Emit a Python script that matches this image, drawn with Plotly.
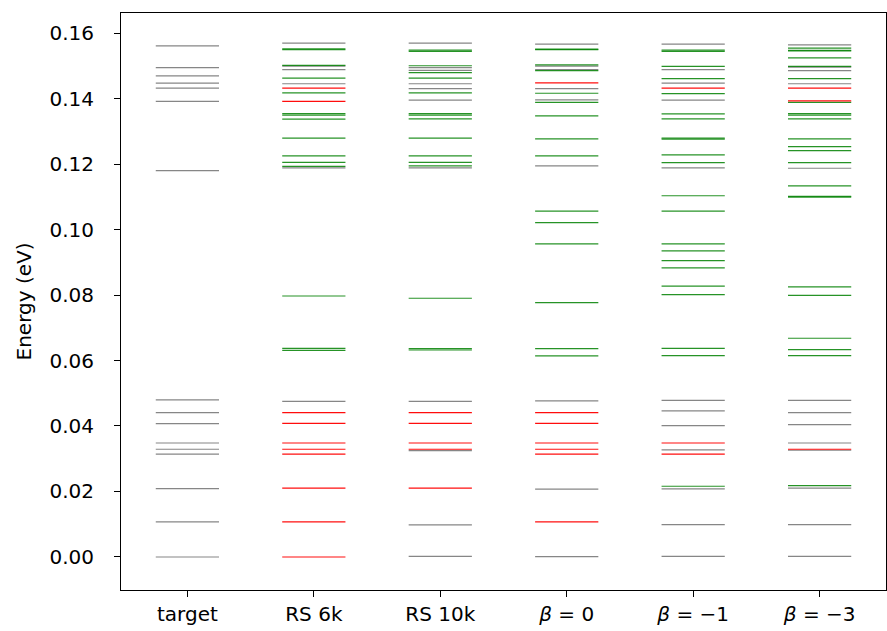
import plotly.graph_objects as go

columns = ["target", "RS 6k", "RS 10k", "<i>β</i> = 0", "<i>β</i> = −1", "<i>β</i> = −3"]

# energy levels (eV) per column, split by colour
target_gray = [0.0, 0.0107, 0.0209, 0.0314, 0.0329, 0.0348, 0.0407, 0.0441, 0.0480,
               0.1180, 0.1391, 0.1432, 0.1447, 0.1469, 0.1494, 0.1561]

rs6k_gray = [0.1569, 0.1499, 0.1488, 0.1445, 0.1188, 0.0475]
rs6k_red = [0.1432, 0.1391, 0.0441, 0.0408, 0.0348, 0.0329, 0.0314, 0.0210, 0.0107, 0.0]
rs6k_green = [0.1552, 0.1549, 0.1501, 0.1462, 0.1417, 0.1354, 0.1349, 0.1337, 0.1279,
              0.1225, 0.1205, 0.1193, 0.0797, 0.0637, 0.0631]

rs10k_gray = [0.1569, 0.1494, 0.1486, 0.1445, 0.1430, 0.1395, 0.1188, 0.0475, 0.0325,
              0.0098, 0.0002]
rs10k_red = [0.0441, 0.0408, 0.0348, 0.0329, 0.0210]
rs10k_green = [0.1548, 0.1544, 0.1500, 0.1479, 0.1462, 0.1417, 0.1354, 0.1349, 0.1338,
               0.1279, 0.1225, 0.1205, 0.1194, 0.0790, 0.0636, 0.0632]

b0_gray = [0.1566, 0.1499, 0.1488, 0.1430, 0.1396, 0.1194, 0.0477, 0.0207, 0.0001]
b0_red = [0.1448, 0.0441, 0.0408, 0.0348, 0.0329, 0.0314, 0.0107]
b0_green = [0.1551, 0.1549, 0.1503, 0.1485, 0.1416, 0.1388, 0.1347, 0.1277, 0.1225,
            0.1056, 0.1021, 0.0956, 0.0777, 0.0636, 0.0614]

bm1_gray = [0.1566, 0.1488, 0.1447, 0.1395, 0.1188, 0.0478, 0.0446, 0.0401, 0.0327,
            0.0208, 0.0099, 0.0002]
bm1_red = [0.1432, 0.0348, 0.0314]
bm1_green = [0.1548, 0.1544, 0.1498, 0.1461, 0.1415, 0.1353, 0.1338, 0.1279, 0.1276,
             0.1228, 0.1204, 0.1103, 0.1056, 0.0956, 0.0935, 0.0905, 0.0883, 0.0827,
             0.0801, 0.0637, 0.0615, 0.0216]

bm3_gray = [0.1564, 0.1496, 0.1485, 0.1445, 0.1187, 0.0478, 0.0441, 0.0404, 0.0348,
            0.0326, 0.0210, 0.0099, 0.0002]
bm3_red = [0.1432, 0.1393, 0.0329]
bm3_green = [0.1554, 0.1547, 0.1545, 0.1524, 0.1498, 0.1461, 0.1388, 0.1354, 0.1349,
             0.1338, 0.1277, 0.1253, 0.1241, 0.1204, 0.1133, 0.1101, 0.1099, 0.0825,
             0.0799, 0.0668, 0.0633, 0.0615, 0.0218]

gray_sets = [target_gray, rs6k_gray, rs10k_gray, b0_gray, bm1_gray, bm3_gray]
green_sets = [[], rs6k_green, rs10k_green, b0_green, bm1_green, bm3_green]
red_sets = [[], rs6k_red, rs10k_red, b0_red, bm1_red, bm3_red]

HALF = 0.25


def segs(sets):
    xs, ys = [], []
    for i, levels in enumerate(sets):
        for e in levels:
            xs += [i - HALF, i + HALF, None]
            ys += [e, e, None]
    return xs, ys


fig = go.Figure()
for sets, color in [(gray_sets, "rgba(128,128,128,0.95)"),
                    (green_sets, "rgba(0,128,0,0.85)"),
                    (red_sets, "rgba(255,0,0,0.95)")]:
    x, y = segs(sets)
    fig.add_trace(go.Scatter(x=x, y=y, mode="lines",
                             line=dict(color=color, width=1.2),
                             hoverinfo="skip", showlegend=False))

font = dict(family="DejaVu Sans", size=20, color="black")
fig.update_layout(
    width=887, height=631,
    margin=dict(l=121, r=1, t=13, b=41, autoexpand=False),
    plot_bgcolor="white", paper_bgcolor="white",
    font=font,
)
fig.update_xaxes(
    range=[-0.525, 5.525], automargin=False,
    tickmode="array", tickvals=list(range(len(columns))), ticktext=columns,
    ticks="outside", ticklen=6, tickwidth=1, tickcolor="black",
    showline=True, linecolor="black", linewidth=1, mirror=True,
    showgrid=False, zeroline=False, tickfont=font,
)
fig.update_yaxes(
    range=[-0.01008, 0.16611], automargin=False,
    tickmode="array", tickvals=[0.0, 0.02, 0.04, 0.06, 0.08, 0.10, 0.12, 0.14, 0.16],
    tickformat=".2f",
    ticks="outside", ticklen=6, tickwidth=1, tickcolor="black",
    ticklabelstandoff=16,
    showline=True, linecolor="black", linewidth=1, mirror=True,
    showgrid=False, zeroline=False, tickfont=font,
    title=dict(text="Energy (eV)", font=dict(family="DejaVu Sans", size=20, color="black"),
               standoff=12),
)

fig.write_html("out.html", config={"displayModeBar": False},
               post_script="document.body.style.margin='0';")
